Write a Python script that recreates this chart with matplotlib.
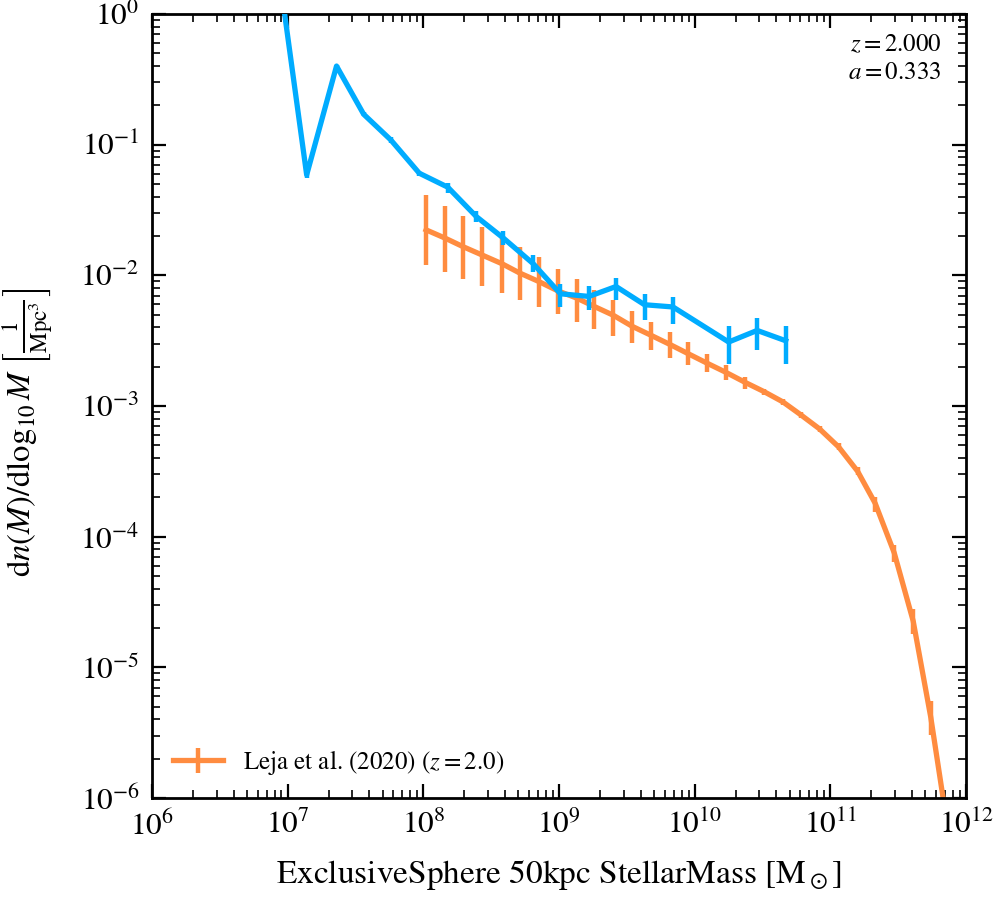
import numpy as np
import matplotlib
matplotlib.use("Agg")
import matplotlib.pyplot as plt

plt.rcParams['font.family'] = ['STIXGeneral', 'DejaVu Sans']
plt.rcParams['mathtext.fontset'] = 'stix'

# simulation stellar mass function (blue)
sim_logm = [6.93, 7.14, 7.36, 7.56, 7.76, 7.97, 8.18, 8.39, 8.59, 8.81,
            9.01, 9.22, 9.42, 9.63, 9.84, 10.25, 10.46, 10.67]
sim_phi = [2.3, 0.0588, 0.40, 0.171, 0.1088, 0.0605, 0.0473, 0.0282, 0.01928, 0.01227,
           0.00723, 0.00690, 0.00822, 0.00596, 0.00573, 0.00309, 0.00379, 0.00316]
sim_lo = [2.2, 0.0558, 0.39, 0.165, 0.1026, 0.0578, 0.0430, 0.0254, 0.01693, 0.01060,
          0.00569, 0.00539, 0.00643, 0.00452, 0.00427, 0.00211, 0.00267, 0.00211]
sim_hi = [2.4, 0.0620, 0.41, 0.177, 0.1153, 0.0632, 0.0508, 0.0313, 0.02193, 0.01436,
          0.00863, 0.00822, 0.00953, 0.00723, 0.00686, 0.00407, 0.00474, 0.00407]

# Leja et al. (2020), z = 2.0 (orange)
leja_logm = [8.02, 8.16, 8.29, 8.43, 8.58, 8.71, 8.85, 8.99, 9.13, 9.26,
             9.40, 9.54, 9.68, 9.82, 9.95, 10.09, 10.23, 10.37, 10.51, 10.65,
             10.78, 10.92, 11.06, 11.20, 11.33, 11.47, 11.61, 11.74, 11.88]
leja_phi = [0.0223, 0.01928, 0.01663, 0.01436, 0.01227, 0.01042, 0.00898, 0.00762, 0.00670, 0.00578,
            0.00495, 0.00407, 0.00347, 0.00295, 0.00252, 0.00213, 0.00181, 0.00152, 0.00129, 0.001075,
            0.000859, 0.000668, 0.000487, 0.000317, 0.000180, 7.53e-5, 2.26e-5, 4.12e-6, 4.6e-7]
leja_lo = [0.0119, 0.01052, 0.00930, 0.00822, 0.00727, 0.00643, 0.00569, 0.00506, 0.00440, 0.00386,
           0.00341, 0.00304, 0.00267, 0.00232, 0.00205, 0.00181, 0.00157, 0.00136, 0.00122, 0.00102,
           0.000815, 0.000630, 0.000458, 0.000296, 0.000154, 6.38e-5, 1.79e-5, 3.02e-6, 3.0e-7]
leja_hi = [0.0413, 0.0340, 0.0286, 0.02355, 0.0195, 0.01655, 0.01371, 0.01122, 0.00942, 0.00776,
           0.0065, 0.00536, 0.00442, 0.00370, 0.00307, 0.00252, 0.00207, 0.00167, 0.00136, 0.00113,
           0.000905, 0.000705, 0.000517, 0.000340, 0.000200, 8.71e-5, 2.81e-5, 5.52e-6, 6.0e-7]

blue = '#00acff'
orange = '#ff8c40'

fig = plt.figure(figsize=(9.96, 9.0), dpi=100)
ax = fig.add_axes([0.1526, 0.1133, 0.8174, 0.8711])

lm = 10 ** np.array(leja_logm)
lp = np.array(leja_phi)
ax.errorbar(lm, lp, yerr=[lp - np.array(leja_lo), np.array(leja_hi) - lp],
            color=orange, lw=3.8, elinewidth=3.2, capsize=0,
            label=r'Leja et al. (2020) ($z=2.0$)', zorder=2)

sm = 10 ** np.array(sim_logm)
sp = np.array(sim_phi)
ax.errorbar(sm, sp, yerr=[sp - np.array(sim_lo), np.array(sim_hi) - sp],
            color=blue, lw=3.8, elinewidth=3.2, capsize=0, zorder=3)

ax.set_xscale('log')
ax.set_yscale('log')
ax.set_xlim(1e6, 1e12)
ax.set_ylim(1e-6, 1e0)

for s in ax.spines.values():
    s.set_linewidth(2.0)
ax.tick_params(which='both', direction='in', top=True, right=True, labelsize=22.5, pad=9)
ax.tick_params(which='major', length=10, width=1.6)
ax.tick_params(which='minor', length=5.8, width=1.2)
ax.xaxis.set_minor_locator(matplotlib.ticker.LogLocator(base=10, subs=np.arange(2, 10), numticks=20))
ax.yaxis.set_minor_locator(matplotlib.ticker.LogLocator(base=10, subs=np.arange(2, 10), numticks=20))
ax.xaxis.set_minor_formatter(matplotlib.ticker.NullFormatter())
ax.yaxis.set_minor_formatter(matplotlib.ticker.NullFormatter())

ax.set_xlabel(r'ExclusiveSphere 50kpc StellarMass $[\mathrm{M}_\odot]$', fontsize=24, labelpad=12)
ax.set_ylabel(r'$\mathrm{d}n(M)/\mathrm{d}\log_{10}M$ $\left[\frac{1}{\mathrm{Mpc}^3}\right]$',
              fontsize=23.5)
ax.yaxis.set_label_coords(-0.119, 0.466)

ax.text(0.97, 0.975, '$z=2.000$\n$a=0.333$', transform=ax.transAxes,
        ha='right', va='top', fontsize=18, linespacing=1.2)

ax.legend(loc='lower left', frameon=False, fontsize=18, handlelength=2.0,
          borderaxespad=0.45)

fig.savefig('out.png', dpi=100)
